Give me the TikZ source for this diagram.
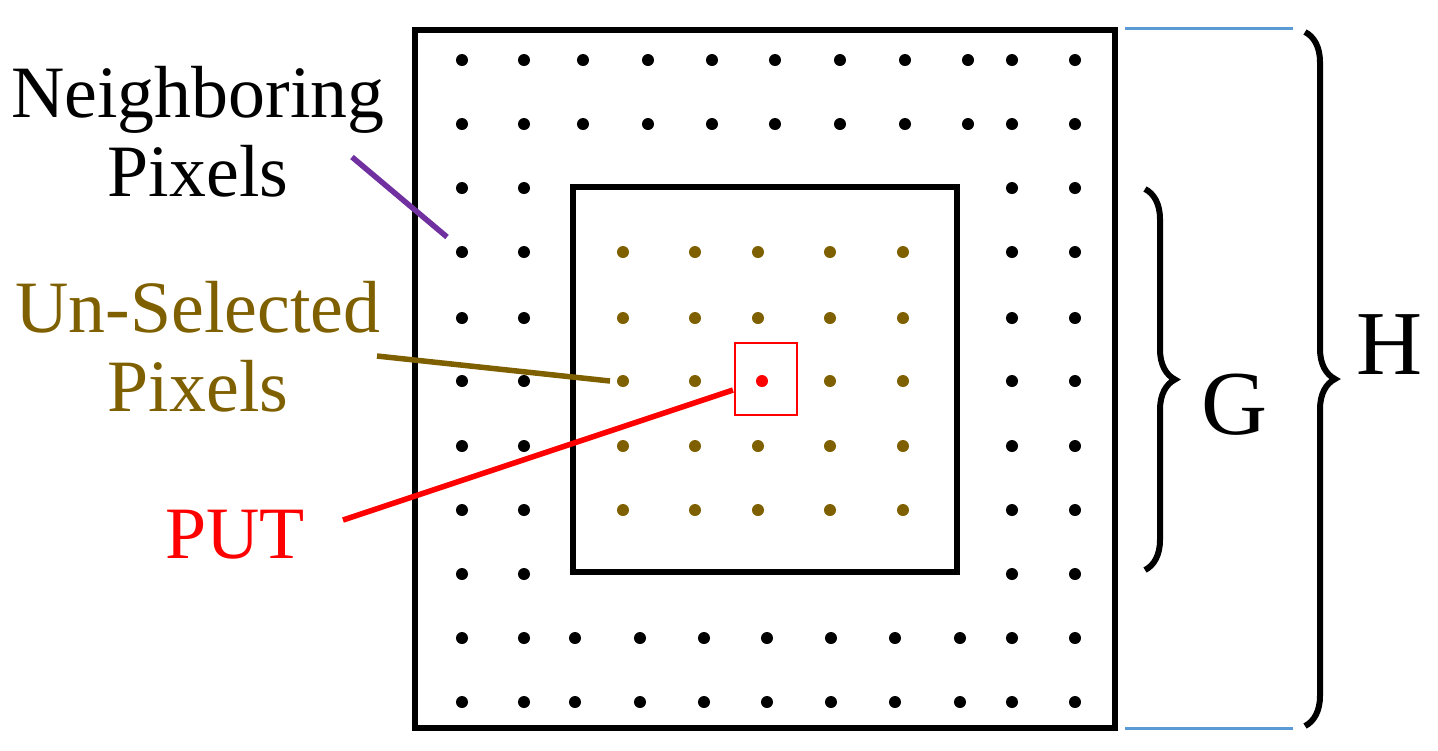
\documentclass[tikz,border=0pt]{standalone}
\usepackage{fontspec}
\setmainfont{Liberation Serif}
\usetikzlibrary{decorations.pathreplacing}
\definecolor{olive}{HTML}{7F6000}
\definecolor{bluel}{HTML}{5B9BD5}
\definecolor{purp}{HTML}{7030A0}
\begin{document}
\begin{tikzpicture}[x=0.01cm,y=-0.01cm,
  dotb/.style={fill=black,circle,inner sep=0pt,minimum size=0.12cm},
  doto/.style={fill=olive,circle,inner sep=0pt,minimum size=0.12cm},
  lbl/.style={font=\fontsize{21}{24}\selectfont,align=center},
  brc/.style={decorate,decoration={brace,amplitude=0.3cm},line width=0.06cm}]
\useasboundingbox (0,0) rectangle (1438,750);
\draw[line width=0.06cm] (415,30) rectangle (1115,728);
\draw[line width=0.06cm] (573,187) rectangle (957,572);
\foreach \x in {462,524,583,648,712,775,840,905,968,1012,1075}
  \foreach \y in {60,124} \node[dotb] at (\x,\y) {};
\foreach \x in {462,524,575,640,704,767,831,895,960,1012,1075}
  \foreach \y in {638,702} \node[dotb] at (\x,\y) {};
\foreach \x in {462,524,1012,1075}
  \foreach \y in {188,252,318,381,446,510,574} \node[dotb] at (\x,\y) {};
\foreach \x in {623,695,758,830,903}
  \foreach \y in {252,318,446,510} \node[doto] at (\x,\y) {};
\foreach \x in {623,695,830,903} \node[doto] at (\x,381) {};
\node[fill=red,circle,inner sep=0pt,minimum size=0.12cm] (put) at (762,381) {};
\draw[red,line width=0.015cm] (735,343) rectangle (797,415);
\coordinate (pbox) at (733,390);
\coordinate (np) at (447,237);
\coordinate (up) at (610,381);
\node[lbl] (nl) at (198,132) {Neighboring\\[-0.05cm]Pixels};
\node[lbl,text=olive] (ul) at (198,347) {Un-Selected\\[-0.05cm]Pixels};
\node[lbl,text=red] (pl) at (235,535) {PUT};
\draw[purp,line width=0.055cm] (352,157) -- (np);
\draw[olive,line width=0.055cm] (377,356) -- (up);
\draw[red,line width=0.055cm] (343,520) -- (pbox);
\draw[bluel,line width=0.03cm] (1125,28) -- (1293,28);
\draw[bluel,line width=0.03cm] (1125,728) -- (1293,728);
\draw[brc] (1305,32) -- (1305,726);
\draw[brc] (1145,189) -- (1145,570);
\node[lbl,font=\fontsize{26}{30}\selectfont] (g) at (1235,405) {G};
\node[lbl,font=\fontsize{26}{30}\selectfont] (h) at (1390,345) {H};
\end{tikzpicture}
\end{document}
